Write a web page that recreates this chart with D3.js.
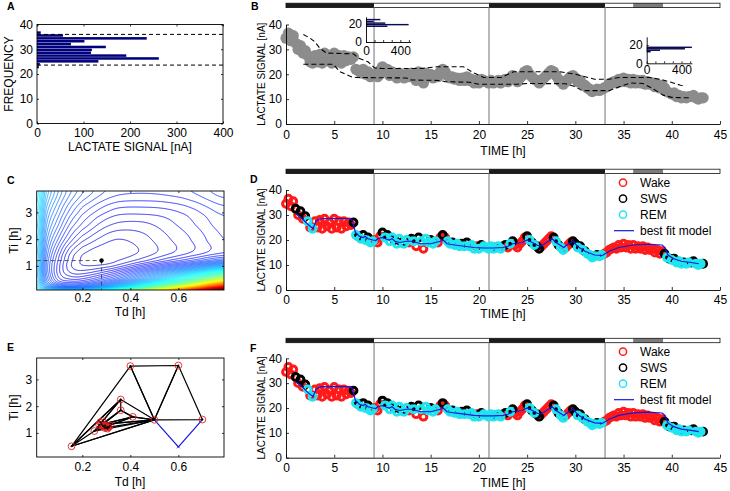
<!DOCTYPE html>
<html>
<head>
<meta charset="utf-8">
<script src="https://cdn.jsdelivr.net/npm/d3@7/dist/d3.min.js"></script>
<style>
html,body{margin:0;padding:0;background:#fff;}
svg{display:block;}
</style>
</head>
<body>
<svg id="fig" width="730" height="491"></svg>
<script>
// ================= DATA =================
// Panel A: histogram of lactate signal
const histCenters = [22.8,23.96,25.12,26.28,27.44,28.6,29.76,30.92,32.08,33.24,34.4,35.56,36.72];
const histCounts  = [4,6,132,262,192,116,118,148,73,102,236,56,8];
const histBinWidth = 1.16;
const histGuides = [23.6, 36.0];
const histXTicks = [0,100,200,300,400];
const histYTicks = [0,10,20,30,40];

// Time panels
const timeTicks = [0,5,10,15,20,25,30,35,40,45];
const lactateTicks = [0,10,20,30,40];
const phaseBoundaries = [9.13, 21.05, 33.08];
const barStart = [0, 9.13, 21.05, 33.08, 36.0, 39.1];
const barEnd   = [9.13, 21.05, 33.08, 36.0, 39.1, 45];
const barShade = ['dark','light','dark','light','mid','light'];

const lacTime = [0,0.25,0.5,0.75,1,1.25,1.5,1.75,2,2.25,2.5,2.75,3,3.25,3.5,3.75,4,4.25,4.5,4.75,5,5.25,5.5,5.75,6,6.25,6.5,6.75,7,7.25,7.5,7.75,8,8.25,8.5,8.75,9,9.25,9.5,9.75,10,10.25,10.5,10.75,11,11.25,11.5,11.75,12,12.25,12.5,12.75,13,13.25,13.5,13.75,14,14.25,14.5,14.75,15,15.25,15.5,15.75,16,16.25,16.5,16.75,17,17.25,17.5,17.75,18,18.25,18.5,18.75,19,19.25,19.5,19.75,20,20.25,20.5,20.75,21,21.25,21.5,21.75,22,22.25,22.5,22.75,23,23.25,23.5,23.75,24,24.25,24.5,24.75,25,25.25,25.5,25.75,26,26.25,26.5,26.75,27,27.25,27.5,27.75,28,28.25,28.5,28.75,29,29.25,29.5,29.75,30,30.25,30.5,30.75,31,31.25,31.5,31.75,32,32.25,32.5,32.75,33,33.25,33.5,33.75,34,34.25,34.5,34.75,35,35.25,35.5,35.75,36,36.25,36.5,36.75,37,37.25,37.5,37.75,38,38.25,38.5,38.75,39,39.25,39.5,39.75,40,40.25,40.5,40.75,41,41.25,41.5,41.75,42,42.25,42.5,42.75,43,43.25];
const lacValue = [
 34.5,36.5,33.5,35.5,32.5,30.0,31.5,28.5,
 29.5,27.5,25.0,24.5,27.5,25.0,28.0,24.5,
 28.5,25.5,27.0,24.5,28.5,25.0,27.5,24.5,
 27.5,25.5,27.0,26.0,27.0,22.0,21.5,20.5,
 22.0,20.0,21.0,19.0,19.5,20.0,19.0,21.5,
 23.0,21.0,22.0,19.5,21.0,20.0,18.5,20.5,
 19.0,18.5,20.0,19.0,20.5,19.5,17.5,21.0,
 19.5,16.5,20.5,19.0,20.0,18.5,19.5,19.0,
 21.0,22.0,21.0,19.5,18.5,19.0,18.0,18.5,
 17.5,18.5,17.5,19.0,17.5,18.0,16.5,17.5,
 16.5,18.0,17.5,17.0,16.5,17.5,16.5,17.0,
 17.5,16.5,17.5,18.0,17.0,18.5,19.5,18.0,
 17.0,18.5,19.5,21.0,21.5,20.0,19.0,18.0,
 17.5,16.5,17.5,18.5,19.5,20.5,21.5,21.0,
 19.5,18.0,17.0,16.0,17.0,18.0,19.0,19.5,
 18.5,17.0,17.5,16.0,15.5,14.5,14.0,13.0,
 13.5,14.0,13.5,14.0,14.5,15.0,16.0,16.5,
 17.0,16.5,18.0,17.0,18.5,17.0,18.0,16.5,
 18.0,16.5,17.5,16.5,17.5,16.0,17.0,16.0,
 16.5,15.0,16.0,14.5,15.5,14.5,13.0,12.5,
 12.0,12.5,11.0,11.5,10.5,11.0,10.5,11.0,
 11.0,11.5,10.5,10.0,10.5,10.5];
const lacState = ("WWWWSWSW"+"SRWRWWWW"+"WWWWWWWW"+"WWWWSRSR"+"SRSRRWWW"+"SRSRRSRR"+
  "SRRWSRWS"+"RWRRSRRW"+"WSWRRSRR"+"RSRSRRRW"+"RSRRRRRS"+"RRWSWRSW"+"WWWWSRSR"+
  "SSWWWWWS"+"RSRRWWWS"+"SRSRSRRR"+"RSRRWWWW"+"WWWWWWWW"+"WWWWWWWW"+"WWWWWSRS"+
  "RSRRRSRR"+"SSRRRS").split("");

const modelTime  = [1.0,1.7,2.2,2.8,3.1,3.5,5.0,6.7,6.9,7.2,7.6,8.0,8.2,8.5,9.0,9.3,9.5,10.0,10.3,10.7,11.0,11.3,11.8,12.5,13.0,13.5,14.0,15.0,15.5,16.0,16.3,16.7,17.5,18.5,19.5,20.5,21.5,22.5,23.0,23.5,24.5,25.0,25.3,26.0,26.4,27.0,27.6,28.0,28.8,29.3,29.8,30.2,31.0,32.0,32.8,33.5,34.5,36.0,37.5,39.0,39.3,39.6,40.2,41.0,42.0,42.8];
const modelValue = [30.5,28.5,26.5,24.5,27.5,28.5,28.7,28.5,27.5,23.0,21.5,21.0,21.5,20.5,20.0,19.8,20.5,21.0,20.5,20.0,20.5,19.5,19.0,19.5,19.5,19.0,18.5,18.5,19.0,19.5,20.0,18.5,18.0,17.5,17.0,16.8,16.8,17.0,17.5,18.5,19.0,20.0,19.5,18.0,17.5,19.0,20.5,19.0,17.0,18.5,19.5,17.5,15.5,14.0,13.8,15.5,17.0,18.0,18.3,18.0,17.0,14.0,12.5,11.5,11.0,10.5];

const upperTime  = [1.8,2.5,3.0,3.5,4.2,7.0,7.5,8.5,9.2,10.0,14.0,15.6,18.4,19.5,20.5,22.3,23.6,28.4,30.0,32.0,33.5,34.5,37.7,39.1,40.9,41.4];
const upperValue = [36.0,34.5,33.0,30.5,28.5,28.2,26.5,25.0,22.5,22.3,22.3,23.0,23.0,20.5,18.7,18.7,21.0,21.0,20.0,18.0,18.0,18.7,18.7,17.7,15.6,15.4];
const lowerTime  = [1.8,4.9,5.6,6.6,7.0,12.5,13.0,16.0,16.5,19.0,20.0,24.0,25.0,29.0,30.0,30.7,33.5,34.6,35.7,37.0,38.0,39.1,40.0,42.0];
const lowerValue = [24.0,24.0,21.0,19.3,18.7,18.5,17.7,17.5,17.0,16.8,16.0,16.0,16.3,16.2,15.0,13.4,13.4,15.0,16.5,16.3,14.3,11.6,10.7,10.5];

const inset1Centers = [17.5,19.3,21.0,22.8,24.9];
const inset1Counts  = [250,497,225,90,167];
const inset2Centers = [12.7,14.3,15.9,17.5];
const inset2Counts  = [46,153,440,520];
const insetXTicks = [0,400];
const insetYTicks = [0,20];

const legendLabels = ['Wake','SWS','REM','best fit model'];

// Panel C: cost surface (contour level index) on a Td x Ti grid
const costTd = [0.01,0.05,0.1,0.15,0.2,0.28,0.35,0.45,0.55,0.65,0.79];
const costTi = [0.1,0.2,0.35,0.5,0.75,1.0,1.2,1.5,2.0,2.5,3.0,3.8];
const costLevels = [
 [26.0,22.0,20.0,20.0,21.0,26.0,32.0,41.0,52.0,66.0,85.0],
 [24.0,17.0,13.0,12.0,13.0,17.0,22.0,30.0,40.0,52.0,70.0],
 [22.0,13.5,8.5,7.5,8.0,11.0,15.0,22.0,30.0,40.0,56.0],
 [21.0,12.0,6.5,5.0,5.2,7.5,10.5,16.5,23.0,31.0,43.0],
 [20.5,11.0,5.5,3.0,2.6,4.0,6.3,11.0,16.0,21.5,30.0],
 [20.5,10.8,5.5,2.2,1.1,1.3,2.5,5.6,9.0,12.5,18.0],
 [21.0,11.2,5.9,2.4,0.8,0.3,1.0,2.6,4.8,7.0,10.3],
 [21.5,12.0,6.8,3.1,1.25,0.3,0.35,1.2,2.6,4.0,5.9],
 [22.5,13.5,8.9,5.6,3.4,1.7,1.0,1.6,2.8,4.0,6.0],
 [23.5,15.0,10.9,7.6,5.6,3.5,2.6,2.6,3.5,4.7,6.5],
 [24.5,16.5,12.6,9.5,7.3,5.4,4.4,4.3,4.6,5.5,7.3],
 [26.0,19.0,15.0,12.2,10.2,8.3,7.4,7.2,7.4,8.0,9.6]];
const bestFit = [0.28, 1.2];
const tdTicks = [0.2,0.4,0.6];
const tiTicks = [1,2,3];

// Panel E: simplex search
const simplexTriangles = [
  [[0.40,3.50],[0.60,3.52],[0.50,1.49]],
  [[0.60,3.52],[0.50,1.49],[0.70,1.50]],
  [[0.40,3.50],[0.50,1.49],[0.155,0.50]],
  [[0.155,0.50],[0.50,1.49],[0.36,2.25]],
  [[0.155,0.50],[0.36,2.25],[0.25,1.07]],
  [[0.25,1.07],[0.36,2.25],[0.36,1.85]],
  [[0.25,1.07],[0.36,1.85],[0.41,1.60]],
  [[0.25,1.07],[0.41,1.60],[0.50,1.49]],
  [[0.28,1.32],[0.36,1.85],[0.41,1.60]],
  [[0.28,1.32],[0.41,1.60],[0.50,1.49]],
  [[0.28,1.32],[0.30,1.20],[0.50,1.49]],
  [[0.28,1.32],[0.30,1.20],[0.315,1.27]],
  [[0.29,1.24],[0.30,1.20],[0.315,1.27]],
  [[0.29,1.24],[0.305,1.22],[0.295,1.28]]];
const rejectedStep = [[0.50,1.49],[0.60,0.48],[0.70,1.50]];
const extraProbes = [[0.275,1.40],[0.285,1.44],[0.27,1.30],[0.305,1.16],[0.295,1.18],[0.31,1.21],[0.285,1.26]];

// ================= DRAWING =================
const svg = d3.select('#fig');
const FONT = '"Liberation Sans", Arial, Helvetica, sans-serif';
const intFmt = d3.format('d');

function txt(x, y, s, opt = {}) {
  const t = svg.append('text').attr('x', x).attr('y', y).text(s)
    .attr('font-family', FONT).attr('font-size', opt.size || 12).attr('fill', '#000');
  if (opt.anchor) t.attr('text-anchor', opt.anchor);
  if (opt.bold) t.attr('font-weight', 'bold');
  if (opt.rot) t.attr('transform', `rotate(-90,${x},${y})`);
  return t;
}
function addAxis(gen, tx, ty, opts = {}) {
  const a = svg.append('g').attr('transform', `translate(${tx},${ty})`).call(gen);
  a.attr('font-family', FONT).attr('font-size', opts.size || 12);
  a.selectAll('text').attr('fill', '#000');
  a.selectAll('line').attr('stroke', '#000').attr('stroke-width', 0.8);
  if (opts.noDomain) a.select('.domain').remove();
  else a.select('.domain').attr('stroke', '#000').attr('stroke-width', 0.9);
  return a;
}
function jet(t) {
  t = Math.max(0, Math.min(1, t));
  const c = v => Math.round(255 * Math.max(0, Math.min(1, v)));
  return `rgb(${c(1.5 - Math.abs(4 * t - 3))},${c(1.5 - Math.abs(4 * t - 2))},${c(1.5 - Math.abs(4 * t - 1))})`;
}

// ---------- Panel A ----------
const xA = d3.scaleLinear().domain([0, 400]).range([37, 223]);
const yA = d3.scaleLinear().domain([0, 40]).range([123.5, 24.5]);
svg.append('g').selectAll('rect').data(histCenters).join('rect')
  .attr('x', xA(0)).attr('y', d => yA(d + histBinWidth * 0.44))
  .attr('width', (d, i) => xA(histCounts[i]) - xA(0))
  .attr('height', yA(0) - yA(histBinWidth * 0.88))
  .attr('fill', '#00007c');
histGuides.forEach(v => svg.append('line').attr('x1', xA(0)).attr('x2', xA(400))
  .attr('y1', yA(v)).attr('y2', yA(v)).attr('stroke', '#000').attr('stroke-width', 1)
  .attr('stroke-dasharray', '4,3'));
svg.append('rect').attr('x', 37).attr('y', 24.5).attr('width', 186).attr('height', 99)
  .attr('fill', 'none').attr('stroke', '#000').attr('stroke-width', 0.9);
addAxis(d3.axisLeft(yA).tickValues(histYTicks).tickSize(-2).tickPadding(4), 37, 0, {noDomain: true});
addAxis(d3.axisBottom(xA).tickValues(histXTicks).tickSize(-2).tickPadding(5), 0, 123.5, {noDomain: true});
addAxis(d3.axisRight(yA).tickValues(histYTicks).tickSize(-2).tickFormat(''), 223, 0, {noDomain: true});
addAxis(d3.axisTop(xA).tickValues(histXTicks).tickSize(-2).tickFormat(''), 0, 24.5, {noDomain: true});
txt(130, 151, 'LACTATE SIGNAL [nA]', {anchor: 'middle'});
txt(13, 74, 'FREQUENCY', {anchor: 'middle', rot: true});
txt(7, 10, 'A', {bold: true, size: 10.5});

// ---------- shared time scale ----------
const xT = d3.scaleLinear().domain([0, 45]).range([286, 720]);
const shadeColor = {dark: '#1c1c1c', light: '#ffffff', mid: '#7c7c7c'};

function phaseBar(yTop, yBottom) {
  const g = svg.append('g');
  g.selectAll('rect').data(barStart).join('rect')
    .attr('x', d => xT(d)).attr('y', yTop)
    .attr('width', (d, i) => xT(barEnd[i]) - xT(d)).attr('height', 4.4)
    .attr('fill', (d, i) => shadeColor[barShade[i]]);
  g.append('rect').attr('x', xT(0)).attr('y', yTop).attr('width', xT(45) - xT(0)).attr('height', 4.4)
    .attr('fill', 'none').attr('stroke', '#111').attr('stroke-width', 0.8);
  svg.append('g').selectAll('line').data(phaseBoundaries).join('line')
    .attr('x1', d => xT(d)).attr('x2', d => xT(d)).attr('y1', yTop + 4.4).attr('y2', yBottom)
    .attr('stroke', '#8a8a8a').attr('stroke-width', 1.2);
}
function timeAxes(y, y0, padB, labelBase) {
  addAxis(d3.axisLeft(y).tickValues(lactateTicks).tickSize(-3).tickPadding(4).tickSizeOuter(0), 286, 0);
  addAxis(d3.axisBottom(xT).tickValues(timeTicks).tickSize(-3).tickPadding(padB).tickSizeOuter(0), 0, y0);
  txt(503, labelBase, 'TIME [h]', {anchor: 'middle'});
  txt(265, (y.range()[0] + y.range()[1]) / 2, 'LACTATE SIGNAL [nA]', {anchor: 'middle', rot: true, size: 10});
}

// ---------- Panel B ----------
const yB = d3.scaleLinear().domain([0, 40]).range([124, 24.5]);
phaseBar(3.2, 124);
svg.append('g').selectAll('circle').data(lacTime).join('circle')
  .attr('cx', d => xT(d)).attr('cy', (d, i) => yB(lacValue[i])).attr('r', 5.6)
  .attr('fill', '#8c8c8c');
const lineB = d3.line().x(d => xT(d[0])).y(d => yB(d[1]));
[[upperTime, upperValue], [lowerTime, lowerValue]].forEach(([T, V]) => {
  svg.append('path').attr('d', lineB(T.map((t, i) => [t, V[i]])))
    .attr('fill', 'none').attr('stroke', '#000').attr('stroke-width', 1.1).attr('stroke-dasharray', '5,3');
});
timeAxes(yB, 124, 6, 155);
txt(251, 10, 'B', {bold: true, size: 10.5});

function inset(centers, counts, x0, x1, y0, yTop, ymax, padX) {
  const xi = d3.scaleLinear().domain([0, 520]).range([x0, x1]);
  const yi = d3.scaleLinear().domain([0, ymax]).range([y0, yTop]);
  const bh = yi(0) - yi(1.6);
  svg.append('g').selectAll('rect').data(centers).join('rect')
    .attr('x', xi(0)).attr('y', d => yi(d) - bh / 2)
    .attr('width', (d, i) => xi(counts[i]) - xi(0)).attr('height', bh)
    .attr('fill', '#0b0b55');
  addAxis(d3.axisLeft(yi).tickValues(insetYTicks).tickSize(-2).tickPadding(4).tickSizeOuter(0), x0, 0);
  addAxis(d3.axisBottom(xi).tickValues([0, 100, 200, 300, 400, 500]).tickSize(-2).tickPadding(padX)
    .tickSizeOuter(0).tickFormat(d => insetXTicks.includes(d) ? d : ''), 0, y0);
}
inset(inset1Centers, inset1Counts, 366, 410.6, 42, 16.8, 28, 4);
inset(inset2Centers, inset2Counts, 646.7, 691.9, 63.3, 36.8, 29, 2);

// ---------- Panels D and F ----------
const stateOrder = ['W', 'S', 'R'];
const stateColor = {W: '#ff1a1a', S: '#000000', R: '#1ee6f0'};
function sleepPanel(y, barTop, letter, letterY, legendY, padB, labelBase) {
  phaseBar(barTop, y.range()[0]);
  stateOrder.forEach(s => {
    const idx = d3.range(lacTime.length).filter(i => lacState[i] === s);
    svg.append('g').selectAll('circle').data(idx).join('circle')
      .attr('cx', i => xT(lacTime[i])).attr('cy', i => y(lacValue[i])).attr('r', 3.4)
      .attr('fill', 'none').attr('stroke', stateColor[s]).attr('stroke-width', 3);
  });
  const line = d3.line().x(d => xT(d)).y((d, i) => y(modelValue[i]));
  svg.append('path').attr('d', line(modelTime)).attr('fill', 'none')
    .attr('stroke', '#1616dc').attr('stroke-width', 1.2);
  timeAxes(y, y.range()[0], padB, labelBase);
  txt(250, letterY, letter, {bold: true, size: 10.5});
  legendLabels.forEach((lab, k) => {
    const cy = legendY + k * 16;
    if (k < 3) {
      svg.append('circle').attr('cx', 623).attr('cy', cy).attr('r', 3.6).attr('fill', 'none')
        .attr('stroke', stateColor[stateOrder[k]]).attr('stroke-width', 1.5);
    } else {
      svg.append('line').attr('x1', 614).attr('x2', 634).attr('y1', cy).attr('y2', cy)
        .attr('stroke', '#1616dc').attr('stroke-width', 1.2);
    }
    txt(640, cy + 4.3, lab);
  });
}
sleepPanel(d3.scaleLinear().domain([0, 40]).range([290, 190]), 169.2, 'D', 183, 182.7, 5, 318);
sleepPanel(d3.scaleLinear().domain([0, 40]).range([457.7, 358.3]), 338.3, 'F', 352, 351.7, 5.5, 487);

// ---------- Panel C ----------
const xC = d3.scaleLinear().domain([0.01, 0.79]).range([36.7, 224]);
const yC = d3.scaleLinear().domain([0.1, 3.8]).range([290, 191]);
function locate(arr, v) {
  const n = arr.length;
  if (v <= arr[0]) return [0, 0];
  if (v >= arr[n - 1]) return [n - 2, 1];
  let i = 0; while (arr[i + 1] < v) i++;
  return [i, (v - arr[i]) / (arr[i + 1] - arr[i])];
}
function cubic(p0, p1, p2, p3, t) {
  return 0.5 * (2 * p1 + (-p0 + p2) * t + (2 * p0 - 5 * p1 + 4 * p2 - p3) * t * t + (-p0 + 3 * p1 - 3 * p2 + p3) * t * t * t);
}
function costAt(td, ti) {
  const [i, fx] = locate(costTd, td), [j, fy] = locate(costTi, ti);
  const nI = costTd.length, nJ = costTi.length;
  const ci = k => Math.max(0, Math.min(nI - 1, k)), cj = k => Math.max(0, Math.min(nJ - 1, k));
  const rows = [-1, 0, 1, 2].map(dj => {
    const r = costLevels[cj(j + dj)];
    return cubic(r[ci(i - 1)], r[ci(i)], r[ci(i + 1)], r[ci(i + 2)], fx);
  });
  return cubic(rows[0], rows[1], rows[2], rows[3], fy);
}
const gx0 = 34, gy0 = 188, gw = 194, gh = 106;
let grid = new Float64Array(gw * gh);
for (let j = 0; j < gh; j++) {
  const ti = yC.invert(gy0 + j + 0.5);
  for (let i = 0; i < gw; i++) grid[j * gw + i] = costAt(xC.invert(gx0 + i + 0.5), ti);
}
{
  const out = new Float64Array(gw * gh);
  for (let j = 0; j < gh; j++) for (let i = 0; i < gw; i++) {
    let s = 0, n = 0;
    for (let dj = -1; dj <= 1; dj++) for (let di = -1; di <= 1; di++) {
      const ii = i + di, jj = j + dj;
      if (ii >= 0 && ii < gw && jj >= 0 && jj < gh) { s += grid[jj * gw + ii]; n++; }
    }
    out[j * gw + i] = s / n;
  }
  grid = out;
}
const contourLevels = d3.range(1, 90, 1);
const contours = d3.contours().size([gw, gh]).thresholds(contourLevels)(Array.from(grid));
svg.append('clipPath').attr('id', 'clipC').append('rect')
  .attr('x', 36.7).attr('y', 191).attr('width', 224 - 36.7).attr('height', 99);
svg.append('g').attr('clip-path', 'url(#clipC)')
  .append('g').attr('transform', `translate(${gx0},${gy0})`)
  .selectAll('path').data(contours).join('path')
  .attr('d', d3.geoPath()).attr('fill', 'none')
  .attr('stroke', d => jet(0.07 + 0.93 * Math.min(1, d.value / 80))).attr('stroke-width', 0.8);
svg.append('line').attr('x1', xC(0.01)).attr('x2', xC(bestFit[0])).attr('y1', yC(bestFit[1])).attr('y2', yC(bestFit[1]))
  .attr('stroke', '#444').attr('stroke-width', 0.9).attr('stroke-dasharray', '4,3');
svg.append('line').attr('x1', xC(bestFit[0])).attr('x2', xC(bestFit[0])).attr('y1', yC(bestFit[1])).attr('y2', yC(0.1))
  .attr('stroke', '#444').attr('stroke-width', 0.9).attr('stroke-dasharray', '4,3');
svg.append('circle').attr('cx', xC(bestFit[0])).attr('cy', yC(bestFit[1])).attr('r', 2.2).attr('fill', '#000');
function boxAxes(xs, ys, top, bottom, padB) {
  svg.append('rect').attr('x', 36.7).attr('y', top).attr('width', 224 - 36.7).attr('height', bottom - top)
    .attr('fill', 'none').attr('stroke', '#000').attr('stroke-width', 0.9);
  addAxis(d3.axisLeft(ys).tickValues(tiTicks).tickFormat(intFmt).tickSize(-2).tickPadding(4.5), 36.7, 0, {noDomain: true});
  addAxis(d3.axisBottom(xs).tickValues(tdTicks).tickSize(-2).tickPadding(padB), 0, bottom, {noDomain: true});
  addAxis(d3.axisRight(ys).tickValues(tiTicks).tickSize(-2).tickFormat(''), 224, 0, {noDomain: true});
  addAxis(d3.axisTop(xs).tickValues(tdTicks).tickSize(-2).tickFormat(''), 0, top, {noDomain: true});
}
boxAxes(xC, yC, 191, 290, 3.5);
txt(130, 316, 'Td [h]', {anchor: 'middle'});
txt(17.5, 240.5, 'Ti [h]', {anchor: 'middle', rot: true});
txt(7, 184, 'C', {bold: true, size: 10.5});

// ---------- Panel E ----------
const xE = d3.scaleLinear().domain([0.01, 0.79]).range([36.7, 224]);
const yE = d3.scaleLinear().domain([0.1, 3.8]).range([457, 358]);
const triLine = d3.line().x(d => xE(d[0])).y(d => yE(d[1]));
svg.append('g').selectAll('path').data(simplexTriangles).join('path')
  .attr('d', d => triLine(d) + 'Z').attr('fill', 'none')
  .attr('stroke', '#000').attr('stroke-width', 1.2).attr('stroke-linejoin', 'round');
svg.append('path').attr('d', triLine(rejectedStep)).attr('fill', 'none')
  .attr('stroke', '#1414dc').attr('stroke-width', 1.2);
const pm = rejectedStep[1];
svg.append('path').attr('d', `M${xE(pm[0]) - 1.5},${yE(pm[1]) - 1.5}l3,3m0,-3l-3,3`)
  .attr('stroke', '#1414dc').attr('stroke-width', 0.8);
const seen = new Map();
simplexTriangles.flat().concat(extraProbes).forEach(p => seen.set(p.join(','), p));
const verts = Array.from(seen.values());
svg.append('g').selectAll('circle').data(verts).join('circle')
  .attr('cx', d => xE(d[0])).attr('cy', d => yE(d[1])).attr('r', 3.4)
  .attr('fill', 'none').attr('stroke', '#e52020').attr('stroke-width', 0.9);
svg.append('g').selectAll('circle').data(verts).join('circle')
  .attr('cx', d => xE(d[0])).attr('cy', d => yE(d[1])).attr('r', 1).attr('fill', '#000');
boxAxes(xE, yE, 358, 457, 5);
txt(130, 486, 'Td [h]', {anchor: 'middle'});
txt(17.5, 407.5, 'Ti [h]', {anchor: 'middle', rot: true});
txt(7, 351, 'E', {bold: true, size: 10.5});
</script>
</body>
</html>
